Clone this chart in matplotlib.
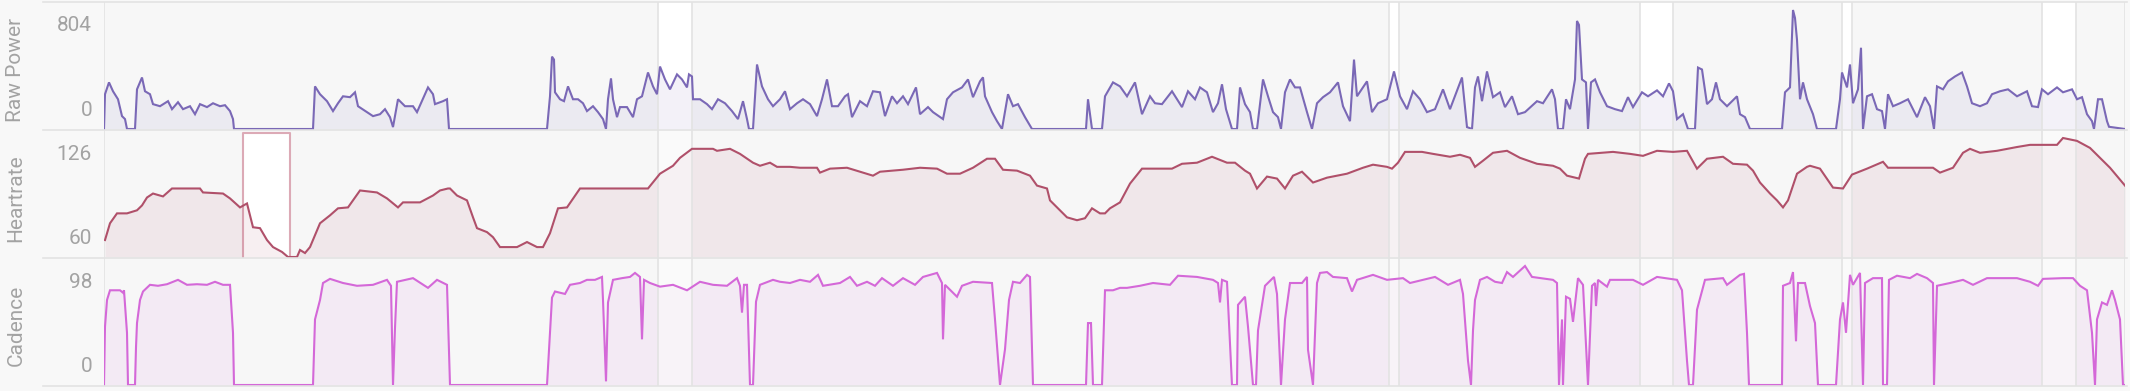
import numpy as np
import matplotlib
matplotlib.use("Agg")
import matplotlib.pyplot as plt
import matplotlib.transforms as mtransforms
from matplotlib.lines import Line2D
from matplotlib.patches import Rectangle

plt.rcParams['font.family'] = ['Roboto', 'DejaVu Sans']

# ride length in minutes
duration = 202.1

# (minute, watts)
power = [(0.0, 0), (0.1, 235), (0.5, 315), (0.9, 255), (1.4, 201), (1.8, 87), (2.1, 67), (2.3, 0),
         (3.1, 0), (3.3, 268), (3.8, 348), (4.1, 255), (4.6, 235), (4.9, 168), (5.6, 154), (6.4, 188),
         (6.8, 134), (7.4, 181), (7.9, 134), (8.6, 154), (9.1, 100), (9.6, 168), (10.3, 148), (10.9, 174),
         (11.6, 154), (12.1, 161), (12.6, 121), (12.9, 67), (13.0, 0), (20.9, 0), (21.1, 288), (21.6, 235),
         (22.3, 188), (22.9, 121), (23.4, 174), (23.9, 221), (24.6, 215), (25.1, 248), (25.4, 154),
         (26.3, 114), (26.9, 87), (27.6, 100), (28.1, 134), (28.6, 80), (28.9, 13), (29.4, 201), (30.1, 154),
         (30.9, 154), (31.3, 114), (32.4, 281), (32.9, 235), (33.1, 168), (33.9, 188), (34.3, 201),
         (34.5, 0), (44.3, 0), (44.6, 221), (44.8, 489), (45.0, 469), (45.1, 248), (45.6, 201), (46.0, 188),
         (46.4, 288), (46.9, 201), (47.4, 201), (47.9, 174), (48.3, 121), (48.9, 154), (49.4, 114),
         (49.9, 67), (50.2, 0), (50.4, 201), (50.7, 342), (50.9, 201), (51.3, 80), (51.6, 148), (52.3, 148),
         (52.9, 80), (53.3, 201), (53.8, 221), (54.4, 382), (54.9, 288), (55.3, 235), (55.6, 422),
         (56.1, 335), (56.6, 268), (57.3, 369), (57.8, 335), (58.3, 281), (58.5, 369), (58.8, 355),
         (58.9, 201), (59.6, 201), (60.3, 168), (60.8, 134), (61.4, 201), (62.1, 174), (62.8, 121),
         (63.4, 67), (63.9, 188), (64.3, 67), (64.5, 0), (64.9, 0), (65.3, 436), (65.8, 288), (66.4, 201),
         (66.9, 154), (67.6, 201), (68.1, 255), (68.6, 134), (69.3, 174), (69.9, 201), (70.6, 168),
         (71.3, 87), (71.8, 201), (72.3, 335), (72.8, 154), (73.4, 154), (74.1, 221), (74.4, 235),
         (74.8, 80), (75.6, 188), (76.3, 154), (76.9, 255), (77.6, 248), (78.1, 87), (78.8, 221),
         (79.3, 174), (79.9, 221), (80.4, 168), (81.2, 281), (81.6, 100), (82.4, 148), (82.9, 114),
         (83.9, 67), (84.3, 201), (84.9, 248), (85.8, 281), (86.4, 335), (86.9, 215), (87.6, 322),
         (87.9, 349), (88.1, 221), (88.8, 114), (89.3, 53), (89.8, 0), (90.4, 235), (90.9, 154),
         (91.4, 168), (92.1, 80), (92.8, 0), (98.2, 0), (98.4, 201), (98.8, 0), (99.8, 0), (100.1, 221),
         (100.9, 315), (101.6, 288), (102.3, 221), (103.1, 315), (103.8, 100), (104.6, 221), (105.1, 174),
         (105.8, 168), (106.8, 255), (107.8, 148), (108.4, 255), (109.1, 201), (109.6, 281), (110.3, 248),
         (110.9, 114), (111.4, 174), (111.8, 302), (112.2, 134), (112.8, 0), (113.3, 0), (113.6, 281),
         (114.1, 168), (114.6, 114), (114.9, 0), (115.3, 0), (115.9, 335), (116.4, 221), (116.9, 114),
         (117.4, 80), (117.7, 0), (118.1, 248), (118.6, 335), (119.1, 281), (119.6, 281), (120.3, 114),
         (120.8, 0), (121.3, 174), (121.9, 215), (122.6, 248), (123.4, 315), (123.9, 154), (124.6, 53),
         (125.0, 469), (125.3, 221), (126.3, 322), (126.8, 114), (127.4, 174), (128.3, 201), (129.0, 389),
         (129.6, 221), (130.3, 134), (130.9, 255), (131.6, 201), (132.3, 114), (133.1, 134), (133.9, 268),
         (134.6, 134), (135.8, 348), (136.3, 13), (136.8, 0), (137.1, 281), (137.4, 355), (137.8, 188),
         (138.3, 389), (138.9, 215), (139.6, 248), (140.1, 148), (140.8, 221), (141.4, 100), (142.1, 114),
         (143.3, 188), (143.9, 174), (144.8, 268), (145.1, 201), (145.4, 0), (145.9, 0), (146.2, 201),
         (146.6, 134), (147.1, 335), (147.3, 730), (147.5, 703), (147.8, 335), (148.2, 315), (148.4, 0),
         (148.7, 315), (149.1, 335), (149.6, 248), (150.3, 154), (151.1, 134), (151.8, 121), (152.4, 215),
         (152.9, 148), (153.8, 248), (154.4, 221), (155.3, 261), (155.9, 221), (156.5, 308), (156.9, 255),
         (157.3, 67), (157.9, 100), (158.4, 0), (159.1, 0), (159.4, 415), (159.8, 402), (160.3, 168),
         (160.8, 201), (161.2, 315), (161.6, 201), (162.3, 154), (163.3, 221), (163.6, 100), (164.1, 80),
         (164.6, 0), (167.8, 0), (168.1, 248), (168.6, 281), (168.9, 804), (169.1, 750), (169.3, 603),
         (169.6, 201), (169.9, 315), (170.3, 201), (170.9, 100), (171.3, 0), (173.2, 0), (173.6, 201),
         (173.8, 382), (174.3, 281), (174.6, 436), (174.9, 174), (175.4, 268), (175.7, 549), (175.9, 0),
         (176.3, 221), (176.8, 235), (177.3, 134), (177.8, 121), (178.1, 0), (178.4, 235), (178.9, 154),
         (179.6, 174), (180.4, 201), (181.3, 80), (182.1, 215), (182.6, 154), (183.0, 0), (183.3, 288),
         (183.9, 268), (184.4, 322), (185.1, 355), (185.8, 382), (186.3, 288), (186.8, 174), (187.6, 154),
         (188.3, 174), (188.8, 235), (189.6, 255), (190.4, 268), (191.3, 221), (192.3, 255), (192.8, 154),
         (193.4, 148), (193.8, 268), (194.4, 235), (195.3, 281), (195.9, 248), (196.8, 268), (197.3, 201),
         (197.8, 215), (198.3, 100), (198.8, 53), (199.0, 0), (199.4, 201), (199.8, 201), (200.3, 53),
         (200.5, 15), (202.1, 0)]

# (minute, bpm)
heartrate = [(0.1, 69.4), (0.6, 78.7), (1.3, 84.2), (2.3, 84.2), (3.3, 85.9), (3.8, 88.6), (4.3, 93.0),
             (4.9, 95.2), (5.9, 93.6), (6.8, 98.0), (9.6, 98.0), (9.9, 95.8), (11.9, 95.2), (12.6, 92.5),
             (13.6, 87.5), (14.3, 89.7), (14.9, 76.5), (15.6, 76.0), (16.3, 69.4), (16.9, 65.5), (17.8, 62.8),
             (18.4, 60.0), (19.3, 60.0), (19.6, 63.9), (20.1, 62.2), (20.6, 65.5), (21.6, 78.7), (22.6, 83.1),
             (23.4, 87.0), (24.4, 87.5), (25.6, 96.9), (27.3, 95.8), (28.3, 92.5), (29.4, 87.5), (29.9, 90.3),
             (31.6, 90.3), (32.9, 94.1), (33.6, 96.9), (34.4, 98.0), (34.6, 98.0), (35.3, 94.1), (36.3, 91.4),
             (36.9, 82.0), (37.3, 76.0), (38.3, 73.8), (38.9, 71.0), (39.6, 65.5), (41.3, 65.5), (42.3, 68.3),
             (43.3, 65.5), (43.9, 65.5), (44.6, 73.2), (45.4, 87.0), (46.3, 87.5), (47.6, 98.0), (51.6, 98.0),
             (54.4, 98.0), (55.6, 106.2), (56.9, 110.6), (57.6, 115.0), (58.8, 120.0), (60.9, 120.0),
             (61.3, 118.9), (62.6, 120.0), (63.6, 117.2), (64.9, 112.3), (65.6, 110.6), (66.6, 112.3),
             (67.3, 110.0), (68.6, 110.0), (69.6, 109.5), (71.3, 109.5), (71.6, 106.8), (72.6, 109.0),
             (74.3, 109.5), (75.6, 107.3), (76.9, 105.1), (77.6, 107.3), (79.9, 108.4), (81.6, 109.5),
             (83.3, 109.0), (84.3, 106.2), (85.6, 106.2), (86.9, 109.5), (88.3, 114.5), (89.1, 114.5),
             (89.9, 108.4), (91.3, 107.9), (92.6, 105.1), (93.3, 99.6), (94.3, 98.0), (94.6, 91.4),
             (95.3, 87.5), (96.3, 82.0), (97.3, 80.4), (98.1, 81.5), (98.8, 87.0), (99.6, 84.2),
             (100.1, 84.2), (100.6, 87.0), (101.6, 90.3), (102.6, 100.7), (103.8, 109.0), (106.8, 109.0),
             (107.8, 111.7), (109.3, 112.3), (110.8, 115.6), (112.3, 112.3), (113.1, 112.3), (114.1, 107.9),
             (114.6, 106.2), (115.3, 98.0), (116.3, 104.6), (117.3, 103.5), (118.1, 98.0), (118.9, 105.1),
             (119.8, 107.3), (120.9, 101.3), (122.3, 104.0), (124.3, 106.2), (125.9, 109.5), (126.9, 111.2),
             (128.3, 110.0), (128.8, 109.0), (129.4, 112.3), (130.1, 118.3), (131.8, 118.3), (132.9, 117.2),
             (134.6, 115.6), (135.6, 116.7), (136.6, 115.0), (137.1, 110.0), (137.9, 113.4), (138.9, 117.8),
             (140.3, 118.9), (141.6, 115.0), (143.3, 111.7), (144.9, 110.6), (145.6, 109.0), (146.3, 105.1),
             (147.5, 103.5), (148.1, 114.5), (148.4, 117.2), (150.9, 118.3), (152.6, 117.2), (153.9, 116.1),
             (155.3, 118.9), (156.9, 118.3), (158.3, 118.9), (159.3, 109.0), (160.3, 114.5), (161.9, 115.6),
             (162.9, 111.7), (164.3, 111.2), (164.9, 107.9), (165.6, 101.3), (166.6, 95.2), (167.3, 91.4),
             (167.9, 87.5), (168.4, 91.4), (169.3, 106.2), (170.3, 110.0), (170.6, 110.6), (171.6, 109.0),
             (172.9, 98.5), (173.9, 98.0), (174.8, 105.7), (176.3, 109.0), (177.9, 112.8), (178.4, 109.5),
             (182.9, 109.5), (183.6, 106.8), (184.9, 109.5), (185.9, 117.8), (186.6, 120.0), (187.6, 117.8),
             (189.3, 118.9), (191.3, 121.0), (192.6, 122.2), (195.3, 122.2), (195.9, 126.0), (197.3, 124.4),
             (198.6, 120.5), (200.6, 109.5), (202.1, 99.6)]

# (minute, rpm)
cadence = [(0.0, 0), (0.1, 48), (0.3, 70), (0.6, 78), (1.6, 78), (1.9, 76), (2.0, 78), (2.3, 43), (2.4, 0),
           (3.1, 0), (3.2, 31), (3.3, 51), (3.6, 70), (3.9, 77), (4.6, 82.5), (5.4, 81.7), (6.3, 83),
           (7.4, 86.6), (8.3, 82.5), (9.3, 83), (10.3, 82.5), (11.1, 85), (11.9, 82.5), (12.6, 82.5),
           (12.9, 43), (13.0, 0), (20.9, 0), (21.1, 54), (21.6, 70), (21.9, 84), (22.6, 87.4), (23.9, 84),
           (25.3, 81.7), (26.9, 82.5), (28.3, 86.6), (28.7, 81.7), (28.9, 0), (29.1, 47), (29.3, 85),
           (30.9, 88), (32.4, 80), (33.3, 86.6), (34.3, 82.5), (34.6, 0), (44.3, 0), (44.8, 72), (45.1, 77),
           (46.1, 75), (46.6, 82.5), (47.6, 84), (48.3, 86.6), (49.1, 86.6), (49.8, 89), (49.9, 70),
           (50.2, 3), (50.4, 68), (50.9, 86.6), (51.8, 88), (52.6, 89), (53.1, 92.3), (53.6, 89),
           (53.8, 37.6), (54.0, 86.6), (54.6, 84), (55.6, 81), (56.9, 82.5), (58.3, 78), (59.6, 85),
           (60.9, 82.5), (62.3, 81.7), (63.3, 88), (63.6, 81.7), (63.8, 59.6), (64.0, 82.5), (64.3, 82.5),
           (64.6, 0), (64.9, 0), (65.2, 68.6), (65.6, 82.5), (66.9, 86.6), (67.6, 85), (68.6, 84),
           (69.6, 86.6), (70.6, 85), (71.4, 90.7), (71.9, 81.7), (73.6, 84), (74.6, 89), (75.3, 81.7),
           (76.3, 85), (77.1, 81.7), (77.8, 88), (78.9, 81.7), (79.9, 88), (81.1, 82.5), (81.9, 89),
           (83.3, 92.3), (83.8, 84), (83.9, 37.6), (84.1, 82.5), (85.3, 72.7), (85.8, 81.7), (86.9, 85),
           (88.8, 84), (89.1, 54), (89.6, 0), (90.1, 29.4), (90.5, 70), (90.9, 85), (91.6, 84), (92.3, 90.7),
           (92.6, 89), (92.9, 0), (98.2, 0), (98.4, 51), (98.7, 51), (98.9, 0), (99.8, 0), (100.1, 78),
           (100.9, 78), (101.6, 80), (102.3, 80), (103.6, 81.7), (104.9, 84), (106.6, 82.5), (107.4, 90),
           (109.3, 89), (110.9, 86.6), (111.4, 84), (111.6, 68), (111.8, 86.6), (112.3, 85), (112.8, 0),
           (113.3, 0), (113.4, 66), (114.1, 72.7), (114.4, 48), (114.9, 0), (115.2, 0), (115.4, 45),
           (116.1, 81.7), (117.0, 89), (117.3, 75), (117.7, 0), (118.1, 54), (118.6, 84), (119.8, 84),
           (120.3, 89), (120.4, 29), (120.9, 0), (121.3, 84), (121.6, 92.3), (122.3, 93), (122.9, 89),
           (124.3, 88), (124.8, 77), (125.3, 86.6), (126.9, 90.7), (128.3, 86.6), (129.9, 88), (130.6, 84),
           (133.1, 89), (134.4, 82.5), (135.6, 86.6), (135.9, 75), (136.4, 20), (136.7, 0), (136.9, 45),
           (137.1, 70), (137.6, 86.6), (138.3, 89), (139.1, 85), (139.8, 84), (140.3, 93), (140.9, 89),
           (142.1, 98), (142.8, 89), (144.9, 86.6), (145.3, 84), (145.5, 0), (145.8, 54), (145.9, 0),
           (146.2, 72.7), (146.6, 71), (146.9, 52), (147.4, 88), (147.9, 82.5), (148.4, 0), (148.8, 81.7),
           (149.1, 84), (149.2, 65), (149.4, 86.6), (150.3, 81), (150.6, 86.6), (152.9, 86.6), (153.9, 82.5),
           (155.3, 89), (157.3, 86.6), (157.8, 78), (158.3, 20), (158.5, 0), (158.9, 0), (159.3, 62),
           (160.1, 86.6), (161.9, 88), (162.3, 82.5), (163.6, 90.7), (164.0, 91.5), (164.3, 43), (164.5, 0),
           (167.8, 0), (167.9, 81.7), (168.6, 84), (168.9, 93), (169.2, 36), (169.4, 84), (170.1, 84),
           (170.6, 65), (171.1, 51), (171.4, 0), (173.2, 0), (173.6, 54), (173.9, 68), (174.2, 43),
           (174.6, 90.7), (174.9, 82.5), (175.6, 92.3), (175.9, 0), (176.1, 84), (176.9, 88), (177.8, 88),
           (177.9, 0), (178.3, 0), (178.5, 86.6), (179.3, 90), (180.6, 88), (181.3, 91.5), (182.3, 88),
           (182.9, 84), (183.0, 0), (183.3, 81.7), (184.6, 84), (185.9, 86.6), (186.9, 82.5), (188.3, 88),
           (191.3, 88), (192.6, 85), (193.4, 81.7), (193.9, 87.4), (195.9, 88), (196.9, 88), (197.6, 81.7),
           (198.3, 78), (198.8, 43), (199.1, 0), (199.3, 54), (199.8, 68), (200.3, 66), (200.8, 78),
           (201.1, 70), (201.6, 54), (201.9, 0), (202.1, 0)]

# highlighted intervals (start, end) in minutes
bands = [(55.4, 58.8), (128.5, 129.5), (153.6, 156.9), (173.8, 174.8), (193.8, 197.2)]
hr_box = (13.9, 18.6)

panels = [
    ("Raw Power", power, "#7a68b6"),
    ("Heartrate", heartrate, "#b0506a"),
    ("Cadence", cadence, "#d468d8"),
]

W, H = 2130, 391
fig = plt.figure(figsize=(W / 100, H / 100), dpi=100, facecolor="#f8f8f8")

left_px, right_px = 104, 2125
tops = [2, 130, 258]   # panel top edges in pixels
pan_h = 128
grid_c = "#e3e3e3"
txt_c = "#a3a3a3"

for i, (name, series, col) in enumerate(panels):
    t, v = np.array(series, dtype=float).T
    top = tops[i]
    ax = fig.add_axes([left_px / W, 1 - (top + pan_h) / H, (right_px - left_px) / W, pan_h / H])
    ax.set_facecolor("#f7f7f7")
    for s in ax.spines.values():
        s.set_visible(False)
    ax.set_xticks([])
    ax.set_yticks([])

    lo, hi = v.min(), v.max()
    rng = hi - lo
    ax.set_xlim(0, duration)
    # min sits ~1px above the panel floor, max 8px below its top
    ax.set_ylim(lo - rng * 1 / 119, lo + rng * 127 / 119)

    # interval bands
    for a, b in bands:
        if i == 0:
            ax.axvspan(a, b, color="white", zorder=0.8, lw=0)
        else:
            ax.axvspan(a, b, color="white", alpha=0.45, zorder=1.8, lw=0)
        ax.axvline(a, color=grid_c, lw=1.2, zorder=2.5)
        ax.axvline(b, color=grid_c, lw=1.2, zorder=2.5)
    ax.axvline(0, color=grid_c, lw=1.2, zorder=2.5)
    ax.axvline(duration, color=grid_c, lw=1.2, zorder=2.5)

    if name == "Heartrate":
        trans = mtransforms.blended_transform_factory(ax.transData, ax.transAxes)
        ax.add_patch(Rectangle((hr_box[0], -0.008), hr_box[1] - hr_box[0], 0.985, transform=trans,
                               facecolor="white", edgecolor="#dcaab6", lw=1.5, zorder=1.0,
                               joinstyle="round", clip_on=False))

    ax.fill_between(t, v, lo, color=col, alpha=0.09, lw=0, zorder=1.5)
    ax.plot(t, v, color=col, lw=1.5, zorder=3, solid_joinstyle="miter")

    # labels
    tr = mtransforms.blended_transform_factory(fig.transFigure, ax.transAxes)
    ax.text(16 / W, 0.47, name, rotation=90, ha="center", va="center", fontsize=15,
            color=txt_c, transform=tr)
    ax.text(92 / W, 0.8125, f"{hi:.0f}", ha="right", va="center", fontsize=15, color=txt_c, transform=tr)
    ax.text(92 / W, 0.156, f"{lo:.0f}", ha="right", va="center", fontsize=15, color=txt_c, transform=tr)

# horizontal separators across the whole chart
for y in [2, 130, 258, 386]:
    fig.add_artist(Line2D([43 / W, 2127 / W], [1 - y / H, 1 - y / H], transform=fig.transFigure,
                          color=grid_c, lw=1.2))

fig.savefig("out.png", dpi=100, facecolor=fig.get_facecolor())
